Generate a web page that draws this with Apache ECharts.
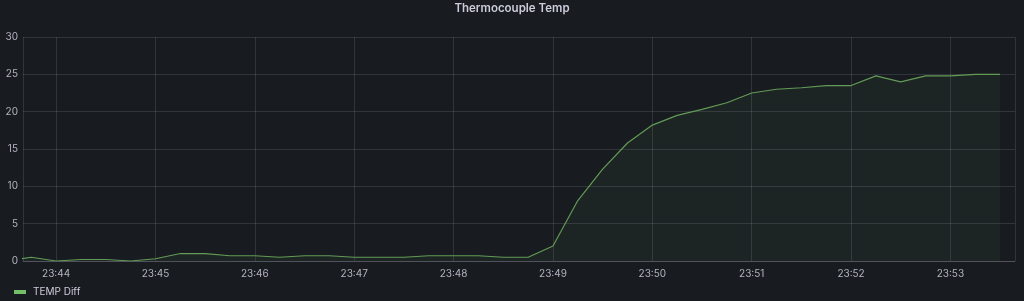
<!DOCTYPE html>
<html>
<head>
<meta charset="utf-8">
<script src="https://cdn.jsdelivr.net/npm/echarts@6/dist/echarts.min.js"></script>
<style>
html,body{margin:0;padding:0;background:#181b1f;}
#c{width:1024px;height:301px;}
</style>
</head>
<body>
<div id="c"></div>
<script>
// Times (HH:MM:SS), every 15 s
const times = ["23:43:30","23:43:45","23:44:00","23:44:15","23:44:30","23:44:45","23:45:00","23:45:15","23:45:30","23:45:45",
"23:46:00","23:46:15","23:46:30","23:46:45","23:47:00","23:47:15","23:47:30","23:47:45","23:48:00","23:48:15",
"23:48:30","23:48:45","23:49:00","23:49:15","23:49:30","23:49:45","23:50:00","23:50:15","23:50:30","23:50:45",
"23:51:00","23:51:15","23:51:30","23:51:45","23:52:00","23:52:15","23:52:30","23:52:45","23:53:00","23:53:15","23:53:30"];
const tempDiff = [0.0,0.5,0.0,0.2,0.2,0.0,0.3,1.0,1.0,0.7,
0.7,0.5,0.7,0.7,0.5,0.5,0.5,0.7,0.7,0.7,
0.5,0.5,2.0,8.1,12.3,15.8,18.2,19.5,20.3,21.2,
22.5,23.0,23.2,23.5,23.5,24.8,24.0,24.8,24.8,25.0,25.0];
const yTicks = [0,5,10,15,20,25,30];
const xRange = ["23:43:40","23:53:39"];

function ts(s){const p=s.split(':').map(Number);return new Date(2024,0,1,p[0],p[1],p[2]).getTime();}
const seriesData = times.map((t,i)=>[ts(t),tempDiff[i]]);
const txt = '#ccccdc';
const chart = echarts.init(document.getElementById('c'));
chart.setOption({
  backgroundColor:'#181b1f',
  animation:false,
  title:{text:'Thermocouple Temp',left:'center',top:3,padding:0,textStyle:{color:txt,fontSize:11.5,fontWeight:600,fontFamily:'Inter'}},
  legend:{left:14,top:287,padding:0,icon:'rect',itemWidth:12,itemHeight:4,itemGap:8,
    textStyle:{color:txt,fontSize:10,fontFamily:'Inter',padding:[0,0,0,2]},data:['TEMP Diff']},
  grid:{left:23,right:9,top:37,bottom:40,containLabel:false},
  xAxis:{type:'time',min:ts(xRange[0]),max:ts(xRange[1]),minInterval:60000,maxInterval:60000,
    axisLine:{show:true,lineStyle:{color:'rgba(204,204,220,0.2)'}},axisTick:{show:false},
    splitLine:{show:true,lineStyle:{color:'rgba(204,204,220,0.15)',width:1}},
    axisLabel:{color:'rgba(204,204,220,0.85)',fontSize:10,fontFamily:'Inter',margin:8,
      formatter:function(v){const d=new Date(v);return String(d.getHours()).padStart(2,'0')+':'+String(d.getMinutes()).padStart(2,'0');},
      showMinLabel:false,showMaxLabel:false}},
  yAxis:{type:'value',min:yTicks[0],max:yTicks[yTicks.length-1],interval:5,
    axisLine:{show:false},axisTick:{show:false},
    splitLine:{lineStyle:{color:'rgba(204,204,220,0.15)',width:1}},
    axisLabel:{color:'rgba(204,204,220,0.85)',fontSize:10,fontFamily:'Inter',margin:5}},
  series:[{name:'TEMP Diff',type:'line',data:seriesData,showSymbol:false,symbol:'none',
    lineStyle:{color:'#629a56',width:1.2},itemStyle:{color:'#73bf69'},
    areaStyle:{color:'rgba(115,191,105,0.09)'},clip:true}]
});
</script>
</body>
</html>
